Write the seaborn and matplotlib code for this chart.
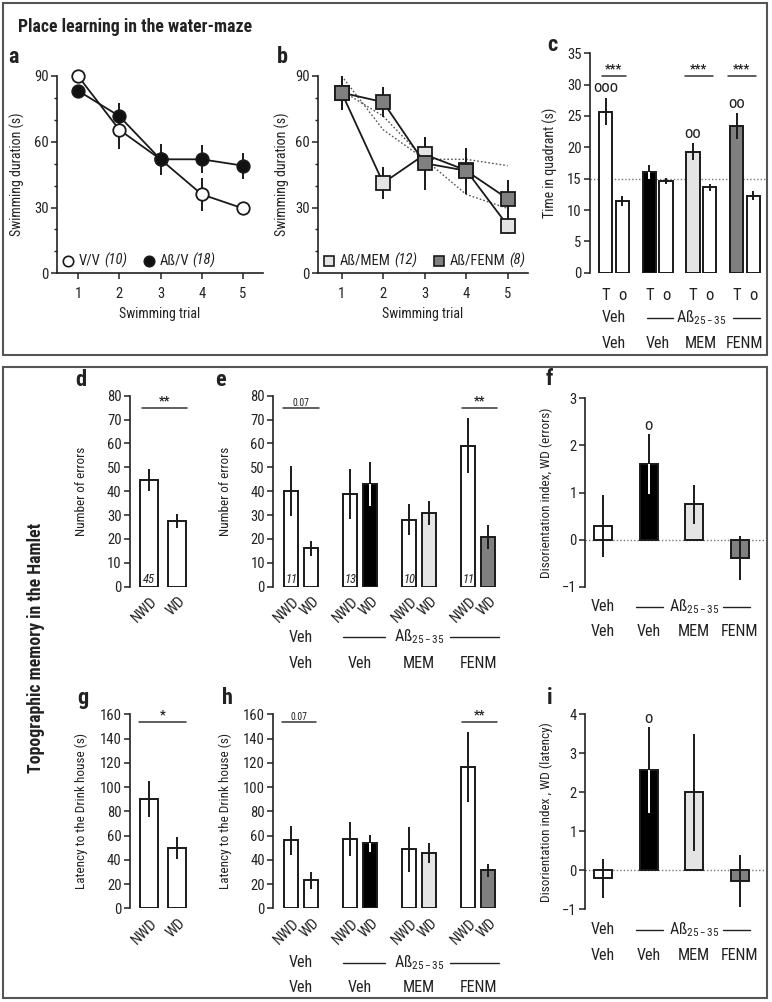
import numpy as np
import pandas as pd
import matplotlib
matplotlib.use('Agg')
import matplotlib.pyplot as plt
import seaborn as sns
from matplotlib import font_manager
from matplotlib.transforms import blended_transform_factory, ScaledTranslation
from matplotlib.patches import Rectangle
from matplotlib.lines import Line2D
from matplotlib.offsetbox import AnchoredOffsetbox, HPacker, TextArea, DrawingArea

# ---------------- data ----------------
trials = [1, 2, 3, 4, 5]
vv_mean = [90, 65.5, 52, 36, 29.6]
vv_err = [1.5, 9, 2, 7.5, 3]
abv_mean = [83.3, 71.7, 52, 52, 49.1]
abv_err = [2.5, 6, 7.2, 6.3, 6]
mem_mean = [82.4, 41.2, 54.2, 47, 21.8]
mem_err = [8, 7.3, 8, 6, 4]
fenm_mean = [82.4, 78.1, 50.2, 46.8, 34]
fenm_err = [8, 7, 12, 10.5, 8.4]

legend_a = [('V/V', '(10)'), ('Aß/V', '(18)')]
legend_b = [('Aß/MEM', '(12)'), ('Aß/FENM', '(8)')]

groups_row1 = ['Veh', '', 'Aß$_{\\mathregular{25-35}}$', '']
groups_row2 = ['Veh', 'Veh', 'MEM', 'FENM']

quad_T = [25.7, 16.1, 19.3, 23.35]
quad_T_err = [2.2, 1.1, 1.4, 2.1]
quad_o = [11.5, 14.6, 13.6, 12.3]
quad_o_err = [0.8, 0.5, 0.5, 0.7]

wd_labels = ['NWD', 'WD']
err_all = [44.7, 27.5]
err_all_sem = [4.7, 2.8]
err_all_n = 45
err_nwd = [40.1, 38.8, 28, 59]
err_nwd_sem = [10.5, 10.5, 6.5, 11.5]
err_wd = [16.1, 42.9, 30.8, 21]
err_wd_sem = [3.1, 9.2, 5, 5]
err_n = [11, 13, 10, 11]

dis_err = [0.29, 1.6, 0.75, -0.39]
dis_err_sem = [0.65, 0.64, 0.41, 0.47]

lat_all = [89.9, 49.5]
lat_all_sem = [15, 9]
lat_nwd = [56, 57, 48.7, 116.3]
lat_nwd_sem = [12, 14, 18.5, 29]
lat_wd = [23, 53.5, 45.6, 31.3]
lat_wd_sem = [7, 7, 8, 5.5]

dis_lat = [-0.2, 2.58, 2.0, -0.27]
dis_lat_sem = [0.5, 1.1, 1.5, 0.66]

# ---------------- style ----------------
sns.set_theme(style='ticks')
names = {f.name for f in font_manager.fontManager.ttflist}
base = 'Liberation Sans'
for cand in ['Roboto Condensed', 'Archivo Narrow', 'PT Sans Narrow', 'Liberation Sans Narrow']:
    if cand in names:
        base = cand
        break
plt.rcParams['font.family'] = [base, 'Liberation Sans', 'DejaVu Sans']
plt.rcParams['mathtext.fontset'] = 'custom'
plt.rcParams['mathtext.rm'] = base
plt.rcParams['mathtext.it'] = base + ':italic'
plt.rcParams['mathtext.bf'] = base + ':bold'
plt.rcParams['axes.linewidth'] = 1.2
plt.rcParams['xtick.color'] = '#222222'
plt.rcParams['ytick.color'] = '#222222'
plt.rcParams['text.color'] = '#222222'
plt.rcParams['axes.labelcolor'] = '#222222'

W, H = 772, 1002
fig = plt.figure(figsize=(W / 100, H / 100), dpi=100)

WHITE, BLACK, LIGHT, DARK = '#ffffff', '#000000', '#e4e4e4', '#808080'
grp_colors = [WHITE, BLACK, LIGHT, DARK]
TS = 10.5   # tick label size
LS = 9.5    # axis label size


def fx(x):
    return x / W


def fy(y):
    return 1 - y / H


def add_ax(l, t, r, b):
    return fig.add_axes([l / W, 1 - b / H, (r - l) / W, (b - t) / H])


def style_ax(ax, bottom=True):
    sns.despine(ax=ax, top=True, right=True, bottom=not bottom)
    for s in ax.spines.values():
        s.set_color('#222222')
    ax.tick_params(axis='y', direction='out', length=4, width=1.1, labelsize=TS, pad=2)
    ax.tick_params(axis='x', direction='out', length=4, width=1.1, labelsize=TS)
    ax.set_facecolor('none')


def bars(ax, pos, vals, sems, colors, width):
    order = np.argsort(pos)
    df = pd.DataFrame({'x': np.array(pos, float)[order], 'y': np.array(vals, float)[order]})
    cols = [colors[i] for i in order]
    sns.barplot(data=df, x='x', y='y', native_scale=True, width=width, color='white',
                edgecolor='#1a1a1a', linewidth=1.4, errorbar=None, ax=ax, zorder=2)
    for p, c in zip(ax.patches, cols):
        p.set_facecolor(c)
    for x, v, s, c in zip(pos, vals, sems, colors):
        if c == BLACK and v > 0:
            ax.plot([x, x], [v, v + s], color='#1a1a1a', lw=1.4, zorder=3, solid_capstyle='butt')
            ax.plot([x, x], [v - s, v], color='white', lw=1.4, zorder=3, solid_capstyle='butt')
        else:
            ax.plot([x, x], [v - s, v + s], color='#1a1a1a', lw=1.4, zorder=3, solid_capstyle='butt')
    ax.set_xlabel('')
    ax.set_ylabel('')


def sig(ax, x0, x1, y, txt, size=9, weight='bold'):
    ax.plot([x0, x1], [y, y], color='#333333', lw=1.1, clip_on=False)
    ax.text((x0 + x1) / 2, y, txt, ha='center', va='bottom', fontsize=size, fontweight=weight)


def rows(ax, centers, y1, y2, lines):
    tr = blended_transform_factory(ax.transData, fig.transFigure)
    for c, t in zip(centers, groups_row1):
        if t:
            ax.text(c, fy(y1), t, transform=tr, ha='center', va='center', fontsize=11.5)
    for (a, b) in lines:
        ax.plot([a, b], [fy(y1), fy(y1)], transform=tr, color='#222222', lw=1.0, clip_on=False)
    for c, t in zip(centers, groups_row2):
        ax.text(c, fy(y2), t, transform=tr, ha='center', va='center', fontsize=11.5)


def rot_labels(ax, pos, labels):
    ax.set_xticks(pos)
    ax.set_xticklabels(labels, rotation=45, ha='right', va='center', rotation_mode='anchor', fontsize=11)
    ax.tick_params(axis='x', length=0, pad=9)
    off = ScaledTranslation(6 / 100, 0, fig.dpi_scale_trans)
    for lab in ax.get_xticklabels():
        lab.set_transform(lab.get_transform() + off)


def marker_legend(ax, entries, marker, faces):
    kids = []
    for (name, n), face in zip(entries, faces):
        da = DrawingArea(10, 10, 0, 0)
        da.add_artist(Line2D([5], [5], marker=marker, ls='none', markersize=7.5,
                             markerfacecolor=face, markeredgecolor='#1a1a1a', markeredgewidth=1.2))
        kids.append(da)
        kids.append(TextArea(name, textprops=dict(fontsize=10.5)))
        kids.append(TextArea(n, textprops=dict(fontsize=10.5, style='italic')))
        kids.append(DrawingArea(6, 1, 0, 0))
    box = HPacker(children=kids[:-1], align='center', pad=0, sep=2.5)
    ab = AnchoredOffsetbox(loc='lower left', child=box, frameon=False, pad=0, borderpad=0,
                           bbox_to_anchor=(0.02, 0.025), bbox_transform=ax.transAxes)
    ax.add_artist(ab)


# ---------------- boxes and titles ----------------
fig.add_artist(Rectangle((fx(3), fy(355)), fx(764), 352 / H, transform=fig.transFigure,
                         fill=False, ec='#555555', lw=1.5))
fig.add_artist(Rectangle((fx(3), fy(998)), fx(764), 631 / H, transform=fig.transFigure,
                         fill=False, ec='#555555', lw=1.5))
fig.text(fx(18), fy(27), 'Place learning in the water-maze', fontsize=12.8, fontweight='bold',
         ha='left', va='center')
fig.text(fx(36), fy(648), 'Topographic memory in the Hamlet', fontsize=12.8, fontweight='bold',
         rotation=90, ha='center', va='center')
for letter, x, y in [('a', 14, 57), ('b', 282, 57), ('c', 552, 45), ('d', 81, 380), ('e', 220, 380),
                     ('f', 549, 379), ('g', 83, 698), ('h', 227, 698), ('i', 550, 698)]:
    fig.text(fx(x), fy(y), letter, fontsize=16, fontweight='bold', ha='center', va='center')

# ---------------- panel a ----------------
axa = add_ax(57, 76, 263, 273.3)
for m, e in [(vv_mean, vv_err), (abv_mean, abv_err)]:
    axa.errorbar(trials, m, yerr=e, fmt='none', ecolor='#1a1a1a', elinewidth=1.4, capsize=0, zorder=2)
sns.lineplot(x=trials, y=vv_mean, ax=axa, color='#1a1a1a', lw=1.3, marker='o', markersize=9,
             markerfacecolor='white', markeredgecolor='#1a1a1a', markeredgewidth=1.3, zorder=3, clip_on=False)
sns.lineplot(x=trials, y=abv_mean, ax=axa, color='#1a1a1a', lw=1.3, marker='o', markersize=9,
             markerfacecolor='#111111', markeredgecolor='#1a1a1a', markeredgewidth=1.3, zorder=4, clip_on=False)
axa.set_xlim(0.49, 5.485)
axa.set_ylim(0, 90)
axa.set_yticks([0, 30, 60, 90])
axa.set_yticks(np.arange(0, 91, 10), minor=True)
axa.set_xticks(trials)
style_ax(axa)
axa.tick_params(axis='y', which='minor', length=2.5, width=1.0)
axa.tick_params(axis='x', pad=6)
axa.set_xlabel('Swimming trial', fontsize=LS + 0.5)
axa.set_ylabel('Swimming duration (s)', fontsize=LS + 0.5)
axa.yaxis.set_label_coords(-0.155, 0.5)
marker_legend(axa, legend_a, 'o', ['white', '#111111'])

# ---------------- panel b ----------------
axb = add_ax(318, 76, 528, 273.3)
sns.lineplot(x=trials, y=vv_mean, ax=axb, color='#555555', lw=1.0, ls=(0, (1.2, 1.5)), zorder=1)
sns.lineplot(x=trials, y=abv_mean, ax=axb, color='#555555', lw=1.0, ls=(0, (1.2, 1.5)), zorder=1)
for m, e in [(mem_mean, mem_err), (fenm_mean, fenm_err)]:
    axb.errorbar(trials, m, yerr=e, fmt='none', ecolor='#1a1a1a', elinewidth=1.4, capsize=0, zorder=2)
sns.lineplot(x=trials, y=mem_mean, ax=axb, color='#1a1a1a', lw=1.3, marker='s', markersize=9.5,
             markerfacecolor=LIGHT, markeredgecolor='#1a1a1a', markeredgewidth=1.3, zorder=3, clip_on=False)
sns.lineplot(x=trials, y=fenm_mean, ax=axb, color='#1a1a1a', lw=1.3, marker='s', markersize=9.5,
             markerfacecolor=DARK, markeredgecolor='#1a1a1a', markeredgewidth=1.3, zorder=4, clip_on=False)
axb.set_xlim(0.43, 5.49)
axb.set_ylim(0, 90)
axb.set_yticks([0, 30, 60, 90])
axb.set_yticks(np.arange(0, 91, 10), minor=True)
axb.set_xticks(trials)
style_ax(axb)
axb.tick_params(axis='y', which='minor', length=2.5, width=1.0)
axb.tick_params(axis='x', pad=6)
axb.set_xlabel('Swimming trial', fontsize=LS + 0.5)
axb.set_ylabel('Swimming duration (s)', fontsize=LS + 0.5)
axb.yaxis.set_label_coords(-0.133, 0.5)
marker_legend(axb, legend_b, 's', [LIGHT, DARK])

# ---------------- panel c ----------------
axc = add_ax(590, 53.3, 768, 272.7)
gp = 2.63
c_T = [g * gp for g in range(4)]
c_o = [g * gp + 1 for g in range(4)]
bars(axc, c_T + c_o, quad_T + quad_o, quad_T_err + quad_o_err, grp_colors + [WHITE] * 4, 0.8)
axc.axhline(15, color='#777777', lw=1.0, ls=(0, (1, 1.5)), zorder=1)
axc.set_xlim(-0.95, 9.78)
axc.set_ylim(0, 35)
axc.set_yticks(np.arange(0, 36, 5))
style_ax(axc, bottom=False)
ticks_c = sorted(c_T + c_o)
axc.set_xticks(ticks_c)
axc.set_xticklabels(['T', 'o'] * 4, fontsize=12)
axc.tick_params(axis='x', length=0, pad=11)
axc.set_ylabel('Time in quadrant (s)', fontsize=LS + 0.5)
axc.yaxis.set_label_coords(-0.18, 0.5)
sig(axc, -0.23, 1.2, 31.4, '***', 9)
sig(axc, 4.77, 6.46, 31.4, '***', 9)
sig(axc, 7.36, 9.05, 31.4, '***', 9)
axc.text(c_T[0], 29.5, 'ooo', ha='center', va='center', fontsize=12)
axc.text(c_T[2], 22.2, 'oo', ha='center', va='center', fontsize=12)
axc.text(c_T[3], 27.0, 'oo', ha='center', va='center', fontsize=12)
rows(axc, [g * gp + 0.5 for g in range(4)], 318, 344, [(2.47, 4.03), (7.68, 9.29)])

# ---------------- panel d ----------------
axd = add_ax(130, 395.7, 190, 586.7)
bars(axd, [0, 1], err_all, err_all_sem, [WHITE, WHITE], 0.65)
axd.set_xlim(-0.69, 1.47)
axd.set_ylim(0, 80)
axd.set_yticks(np.arange(0, 81, 10))
style_ax(axd, bottom=False)
rot_labels(axd, [0, 1], wd_labels)
axd.set_ylabel('Number of errors', fontsize=LS)
axd.yaxis.set_label_coords(-0.7, 0.5)
sig(axd, -0.27, 1.36, 75, '**', 9)
axd.text(0, 3.2, str(err_all_n), ha='center', va='center', fontsize=9, style='italic')

# ---------------- panel e ----------------
axe = add_ax(273.3, 395.7, 505, 586.7)
e_n = [g * 3 for g in range(4)]
e_w = [g * 3 + 1 for g in range(4)]
bars(axe, e_n + e_w, err_nwd + err_wd, err_nwd_sem + err_wd_sem, [WHITE] * 4 + grp_colors, 0.7)
axe.set_xlim(-0.9, 10.86)
axe.set_ylim(0, 80)
axe.set_yticks(np.arange(0, 81, 10))
style_ax(axe, bottom=False)
rot_labels(axe, sorted(e_n + e_w), wd_labels * 4)
axe.set_ylabel('Number of errors', fontsize=LS)
axe.yaxis.set_label_coords(-0.178, 0.5)
sig(axe, -0.39, 1.42, 75, '0.07', 7, 'normal')
sig(axe, 8.66, 10.44, 75, '**', 9)
for x, n in zip(e_n, err_n):
    axe.text(x, 3.2, str(n), ha='center', va='center', fontsize=9, style='italic')
rows(axe, [g * 3 + 0.5 for g in range(4)], 637, 663, [(2.64, 4.77), (8.07, 10.56)])

# ---------------- panel f ----------------
axf = add_ax(585, 398.3, 766.7, 586.7)
bars(axf, [0, 1, 2, 3], dis_err, dis_err_sem, grp_colors, 0.4)
axf.axhline(0, color='#777777', lw=1.0, ls=(0, (1, 1.5)), zorder=1)
axf.set_xlim(-0.40, 3.59)
axf.set_ylim(-1, 3)
axf.set_yticks([-1, 0, 1, 2, 3])
style_ax(axf, bottom=False)
axf.set_xticks([])
axf.set_ylabel('Disorientation index, WD (errors)', fontsize=LS)
axf.yaxis.set_label_coords(-0.176, 0.5)
axf.text(1, 2.42, 'o', ha='center', va='center', fontsize=12)
rows(axf, [0, 1, 2, 3], 606.7, 631.7, [(0.73, 1.32), (2.63, 3.22)])

# ---------------- panel g ----------------
axg = add_ax(130, 714.3, 190, 908.3)
bars(axg, [0, 1], lat_all, lat_all_sem, [WHITE, WHITE], 0.65)
axg.set_xlim(-0.69, 1.47)
axg.set_ylim(0, 160)
axg.set_yticks(np.arange(0, 161, 20))
style_ax(axg, bottom=False)
rot_labels(axg, [0, 1], wd_labels)
axg.set_ylabel('Latency to the Drink house (s)', fontsize=LS)
axg.yaxis.set_label_coords(-0.7, 0.5)
sig(axg, -0.36, 1.32, 154, '*', 9)

# ---------------- panel h ----------------
axh = add_ax(273.3, 714.3, 505, 908.3)
bars(axh, e_n + e_w, lat_nwd + lat_wd, lat_nwd_sem + lat_wd_sem, [WHITE] * 4 + grp_colors, 0.7)
axh.set_xlim(-0.9, 10.86)
axh.set_ylim(0, 160)
axh.set_yticks(np.arange(0, 161, 20))
style_ax(axh, bottom=False)
rot_labels(axh, sorted(e_n + e_w), wd_labels * 4)
axh.set_ylabel('Latency to the Drink house (s)', fontsize=LS)
axh.yaxis.set_label_coords(-0.178, 0.5)
sig(axh, -0.47, 1.27, 154, '0.07', 7, 'normal')
sig(axh, 8.66, 10.44, 154, '**', 9)
rows(axh, [g * 3 + 0.5 for g in range(4)], 962.7, 988, [(2.64, 4.77), (8.07, 10.56)])

# ---------------- panel i ----------------
axi = add_ax(585, 714.3, 766.7, 909.3)
bars(axi, [0, 1, 2, 3], dis_lat, dis_lat_sem, grp_colors, 0.4)
axi.axhline(0, color='#777777', lw=1.0, ls=(0, (1, 1.5)), zorder=1)
axi.set_xlim(-0.40, 3.59)
axi.set_ylim(-1, 4)
axi.set_yticks([-1, 0, 1, 2, 3, 4])
style_ax(axi, bottom=False)
axi.set_xticks([])
axi.set_ylabel('Disorientation index , WD (latency)', fontsize=LS)
axi.yaxis.set_label_coords(-0.176, 0.5)
axi.text(1, 3.9, 'o', ha='center', va='center', fontsize=12)
rows(axi, [0, 1, 2, 3], 930, 956, [(0.73, 1.32), (2.63, 3.22)])

fig.savefig('out.png', dpi=100)
